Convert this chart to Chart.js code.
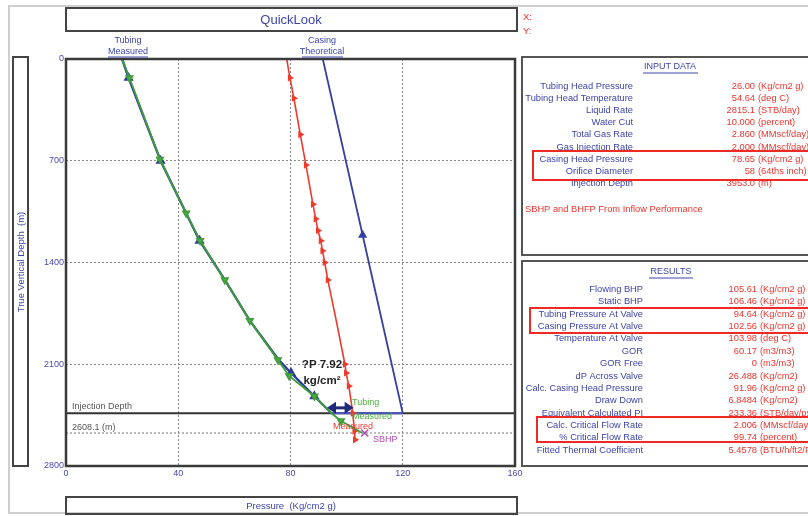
<!DOCTYPE html>
<html>
<head>
<meta charset="utf-8">
<script src="https://cdn.jsdelivr.net/npm/chart.js@4.4.1/dist/chart.umd.min.js"></script>
<style>
  body { margin: 0; background: #fff; }
  #quick { display: block; }
</style>
</head>
<body>
<canvas id="quick" width="808" height="516"></canvas>
<script>
// depth (m) vs pressure (Kg/cm2 g)
const tubingMeasDepth = [0, 130, 690, 1060, 1250, 1520, 1800, 2070, 2180, 2320, 2437, 2490, 2573];
const tubingMeasPress = [20, 22.6, 33.5, 42.8, 47.8, 56.6, 65.5, 75.5, 79.5, 88.5, 94.6, 98, 105.6];
const tubingTheoDepth = [0, 130, 700, 1040, 1250, 1520, 1800, 2070, 2160, 2320, 2437];
const tubingTheoPress = [20, 22.3, 33.7, 42.3, 47.6, 56.6, 65.5, 75.8, 80.2, 88.5, 94.6];
const casingMeasDepth = [0, 130, 270, 520, 730, 1000, 1100, 1180, 1250, 1320, 1400, 1520, 1800, 2100, 2160, 2250, 2437, 2560, 2620];
const casingMeasPress = [78.65, 79.8, 81.2, 83.5, 85.5, 88, 89, 89.8, 90.8, 91.4, 92.2, 93.3, 96.3, 99.4, 99.8, 100.8, 102.2, 102.8, 103];
const casingTheoDepth = [0, 1211, 2437];
const casingTheoPress = [91.5, 105.7, 120];
const injectionDepth = 2437;
const perfDepth = 2573;
const sbhp = [106.46, 2573];
const depthTicks = [0, 700, 1400, 2100, 2800];
const pressureTicks = [0, 40, 80, 120, 160];

const inputLabels = ['Tubing Head Pressure', 'Tubing Head Temperature', 'Liquid Rate', 'Water Cut',
  'Total Gas Rate', 'Gas Injection Rate', 'Casing Head Pressure', 'Orifice Diameter', 'Injection Depth'];
const inputValues = ['26.00', '54.64', '2815.1', '10.000', '2.860', '2.000', '78.65', '58', '3953.0'];
const inputUnits = ['(Kg/cm2 g)', '(deg C)', '(STB/day)', '(percent)', '(MMscf/day)', '(MMscf/day)',
  '(Kg/cm2 g)', '(64ths inch)', '(m)'];
const resultLabels = ['Flowing BHP', 'Static BHP', 'Tubing Pressure At Valve', 'Casing Pressure At Valve',
  'Temperature At Valve', 'GOR', 'GOR Free', 'dP Across Valve', 'Calc. Casing Head Pressure', 'Draw Down',
  'Equivalent Calculated PI', 'Calc. Critical Flow Rate', '% Critical Flow Rate', 'Fitted Thermal Coefficient'];
const resultValues = ['105.61', '106.46', '94.64', '102.56', '103.98', '60.17', '0', '26.488', '91.96',
  '6.8484', '233.36', '2.006', '99.74', '5.4578'];
const resultUnits = ['(Kg/cm2 g)', '(Kg/cm2 g)', '(Kg/cm2 g)', '(Kg/cm2 g)', '(deg C)', '(m3/m3)', '(m3/m3)',
  '(Kg/cm2)', '(Kg/cm2 g)', '(Kg/cm2)', '(STB/day/psi)', '(MMscf/day)', '(percent)', '(BTU/h/ft2/F)'];

const BLUE_TXT = '#3d45a8';
const RED_TXT = '#e8352e';
const FONT = 'Liberation Sans, Arial, sans-serif';

function pts(depth, press) {
  return depth.map((d, i) => ({ x: press[i], y: d }));
}

// which points carry a marker
function marks(n, idx, r) {
  const a = new Array(n).fill(0);
  idx.forEach(i => a[i] = r);
  return a;
}

function text(ctx, s, x, y, color, size, align, weight) {
  ctx.font = (weight || '') + ' ' + size + 'px ' + FONT;
  ctx.fillStyle = color;
  ctx.textAlign = align || 'left';
  ctx.textBaseline = 'middle';
  ctx.fillText(s, x, y);
}

const decor = {
  id: 'decor',
  beforeDatasetsDraw(chart) {
    const ctx = chart.ctx, a = chart.chartArea;
    const ys = chart.scales.y;
    ctx.save();
    // perforation depth dotted line
    ctx.strokeStyle = '#777';
    ctx.lineWidth = 1;
    ctx.setLineDash([2, 2]);
    const yp = ys.getPixelForValue(perfDepth);
    ctx.beginPath(); ctx.moveTo(a.left, yp); ctx.lineTo(a.right, yp); ctx.stroke();
    ctx.setLineDash([]);
    // injection depth line
    const yi = ys.getPixelForValue(injectionDepth);
    ctx.strokeStyle = '#333';
    ctx.lineWidth = 2;
    ctx.beginPath(); ctx.moveTo(a.left, yi); ctx.lineTo(a.right, yi); ctx.stroke();
    ctx.restore();
  },
  afterDraw(chart) {
    const ctx = chart.ctx, a = chart.chartArea;
    const xs = chart.scales.x, ys = chart.scales.y;
    ctx.save();

    // outer page frame
    ctx.strokeStyle = '#cfcfcf';
    ctx.lineWidth = 2;
    ctx.strokeRect(9, 6, 805, 507);

    // plot frame
    ctx.strokeStyle = '#3a3a3a';
    ctx.lineWidth = 2.5;
    ctx.strokeRect(a.left, a.top, a.right - a.left, a.bottom - a.top);

    // title and axis title boxes
    ctx.strokeStyle = '#444';
    ctx.lineWidth = 2;
    ctx.strokeRect(66, 8, 451, 23);
    ctx.strokeRect(66, 497, 451, 17);
    ctx.strokeRect(13, 57, 15, 409);
    text(ctx, 'QuickLook', 291, 20, BLUE_TXT, 13, 'center');
    text(ctx, 'Pressure  (Kg/cm2 g)', 291, 506, BLUE_TXT, 9.5, 'center');
    ctx.save();
    ctx.translate(21, 262);
    ctx.rotate(-Math.PI / 2);
    text(ctx, 'True Vertical Depth  (m)', 0, 0, BLUE_TXT, 9.5, 'center');
    ctx.restore();

    // curve headers
    text(ctx, 'Tubing', 128, 41, BLUE_TXT, 9, 'center');
    text(ctx, 'Measured', 128, 52, BLUE_TXT, 9, 'center');
    text(ctx, 'Casing', 322, 41, BLUE_TXT, 9, 'center');
    text(ctx, 'Theoretical', 322, 52, BLUE_TXT, 9, 'center');
    ctx.strokeStyle = BLUE_TXT; ctx.lineWidth = 1;
    ctx.beginPath(); ctx.moveTo(108, 57); ctx.lineTo(148, 57); ctx.moveTo(302, 57); ctx.lineTo(343, 57); ctx.stroke();

    // injection depth labels
    text(ctx, 'Injection Depth', 72, 407, '#555', 9);
    text(ctx, '2608.1 (m)', 72, 428, '#555', 9);

    // dP annotation with double arrow
    const yArrow = ys.getPixelForValue(2400);
    const x1 = xs.getPixelForValue(93), x2 = xs.getPixelForValue(102.5);
    ctx.strokeStyle = '#1f2a78'; ctx.fillStyle = '#1f2a78'; ctx.lineWidth = 3;
    ctx.beginPath(); ctx.moveTo(x1 + 6, yArrow); ctx.lineTo(x2 - 6, yArrow); ctx.stroke();
    ctx.beginPath(); ctx.moveTo(x1, yArrow); ctx.lineTo(x1 + 9, yArrow - 6); ctx.lineTo(x1 + 9, yArrow + 6); ctx.closePath(); ctx.fill();
    ctx.beginPath(); ctx.moveTo(x2, yArrow); ctx.lineTo(x2 - 9, yArrow - 6); ctx.lineTo(x2 - 9, yArrow + 6); ctx.closePath(); ctx.fill();
    text(ctx, '?P 7.92', 322, 365, '#222', 11.5, 'center', 'bold');
    text(ctx, 'kg/cm²', 322, 381, '#222', 11.5, 'center', 'bold');

    // point labels near bottom
    text(ctx, 'Tubing', 352, 403, '#4caf3c', 9);
    text(ctx, 'Measured', 352, 417, '#4caf3c', 9);
    text(ctx, 'Measured', 333, 427, RED_TXT, 9);
    text(ctx, 'SBHP', 373, 440, '#b04ab8', 9);

    // side panel
    text(ctx, 'X:', 523, 17, RED_TXT, 9.5);
    text(ctx, 'Y:', 523, 31, RED_TXT, 9.5);
    ctx.strokeStyle = '#555'; ctx.lineWidth = 2;
    ctx.strokeRect(522, 57, 300, 198);
    ctx.strokeRect(522, 261, 300, 205);

    text(ctx, 'INPUT DATA', 670, 67, BLUE_TXT, 9, 'center');
    ctx.strokeStyle = BLUE_TXT; ctx.lineWidth = 1;
    ctx.beginPath(); ctx.moveTo(643, 73); ctx.lineTo(698, 73); ctx.stroke();
    inputLabels.forEach((l, i) => {
      const y = 86 + i * 12.2;
      text(ctx, l, 633, y, BLUE_TXT, 9.3, 'right');
      text(ctx, inputValues[i], 755, y, RED_TXT, 9.3, 'right');
      text(ctx, inputUnits[i], 758, y, RED_TXT, 9.3);
    });
    text(ctx, 'SBHP and BHFP From Inflow Performance', 525, 209, RED_TXT, 9.3);

    text(ctx, 'RESULTS', 671, 272, BLUE_TXT, 9, 'center');
    ctx.beginPath(); ctx.moveTo(649, 278); ctx.lineTo(693, 278); ctx.stroke();
    resultLabels.forEach((l, i) => {
      const y = 289.5 + i * 12.35;
      text(ctx, l, 643, y, BLUE_TXT, 9.3, 'right');
      text(ctx, resultValues[i], 757, y, RED_TXT, 9.3, 'right');
      text(ctx, resultUnits[i], 760, y, RED_TXT, 9.3);
    });

    // highlight boxes
    ctx.strokeStyle = '#ee2a24'; ctx.lineWidth = 2;
    ctx.strokeRect(533, 151, 290, 29);
    ctx.strokeRect(530, 308, 293, 25);
    ctx.strokeRect(537, 417, 286, 25);

    ctx.restore();
  }
};

const ctx = document.getElementById('quick').getContext('2d');
new Chart(ctx, {
  type: 'scatter',
  data: {
    // first dataset is drawn on top
    datasets: [
      {
        label: 'SBHP',
        data: [{ x: sbhp[0], y: sbhp[1] }],
        pointStyle: 'crossRot', pointRadius: 5, borderColor: '#b04ab8', borderWidth: 1.5
      },
      {
        label: 'Tubing Measured',
        data: pts(tubingMeasDepth, tubingMeasPress),
        showLine: true, borderColor: '#3f9e3a', backgroundColor: '#4cb244', borderWidth: 1.8,
        pointStyle: 'triangle', pointRotation: 180,
        pointRadius: marks(tubingMeasDepth.length, [1, 2, 3, 4, 5, 6, 7, 8, 9, 11], 3.5)
      },
      {
        label: 'Tubing Theoretical',
        data: pts(tubingTheoDepth, tubingTheoPress),
        showLine: true, borderColor: '#2f3c9c', backgroundColor: '#2f3c9c', borderWidth: 2.4,
        pointStyle: 'triangle', pointRadius: marks(tubingTheoDepth.length, [1, 2, 4, 8, 9], 3.5)
      },
      {
        label: 'Casing Measured',
        data: pts(casingMeasDepth, casingMeasPress),
        showLine: true, borderColor: '#ee3a2c', backgroundColor: '#ee3a2c', borderWidth: 1.6,
        pointStyle: 'triangle', pointRotation: 90,
        pointRadius: marks(casingMeasDepth.length, [1, 2, 3, 4, 5, 6, 7, 8, 9, 10, 11, 13, 14, 15, 16, 17, 18], 2.5)
      },
      {
        label: 'Injection',
        data: [{ x: 94.6, y: injectionDepth }, { x: 120, y: injectionDepth }],
        showLine: true, borderColor: '#4a56c0', borderWidth: 1.8, pointRadius: 0
      },
      {
        label: 'Casing Theoretical',
        data: pts(casingTheoDepth, casingTheoPress),
        showLine: true, borderColor: '#3541a0', backgroundColor: '#3541a0', borderWidth: 1.8,
        pointStyle: 'triangle', pointRadius: marks(3, [1], 3.5)
      }
    ]
  },
  options: {
    responsive: false,
    animation: false,
    devicePixelRatio: 1,
    layout: { padding: { left: 0, top: 59, right: 293, bottom: 20 } },
    plugins: { legend: { display: false }, tooltip: { enabled: false } },
    scales: {
      x: {
        type: 'linear', min: 0, max: 160,
        afterBuildTicks: s => { s.ticks = pressureTicks.map(v => ({ value: v })); },
        afterFit: s => { s.height = 30; },
        ticks: { color: '#4a4ab0', font: { size: 9, family: FONT }, padding: 2, maxRotation: 0, callback: v => String(v) },
        grid: {
          drawTicks: false,
          color: c => (c.tick && (c.tick.value === 0 || c.tick.value === 160)) ? 'rgba(0,0,0,0)' : '#888'
        },
        border: { display: false, dash: [2, 2] }
      },
      y: {
        type: 'linear', min: 0, max: 2800, reverse: true,
        afterBuildTicks: s => { s.ticks = depthTicks.map(v => ({ value: v })); },
        afterFit: s => { s.width = 66; },
        ticks: { color: '#4a4ab0', font: { size: 9, family: FONT }, padding: 2, callback: v => String(v) },
        grid: {
          drawTicks: false,
          color: c => (c.tick && (c.tick.value === 0 || c.tick.value === 2800)) ? 'rgba(0,0,0,0)' : '#888'
        },
        border: { display: false, dash: [2, 2] }
      }
    }
  },
  plugins: [decor]
});
</script>
</body>
</html>
